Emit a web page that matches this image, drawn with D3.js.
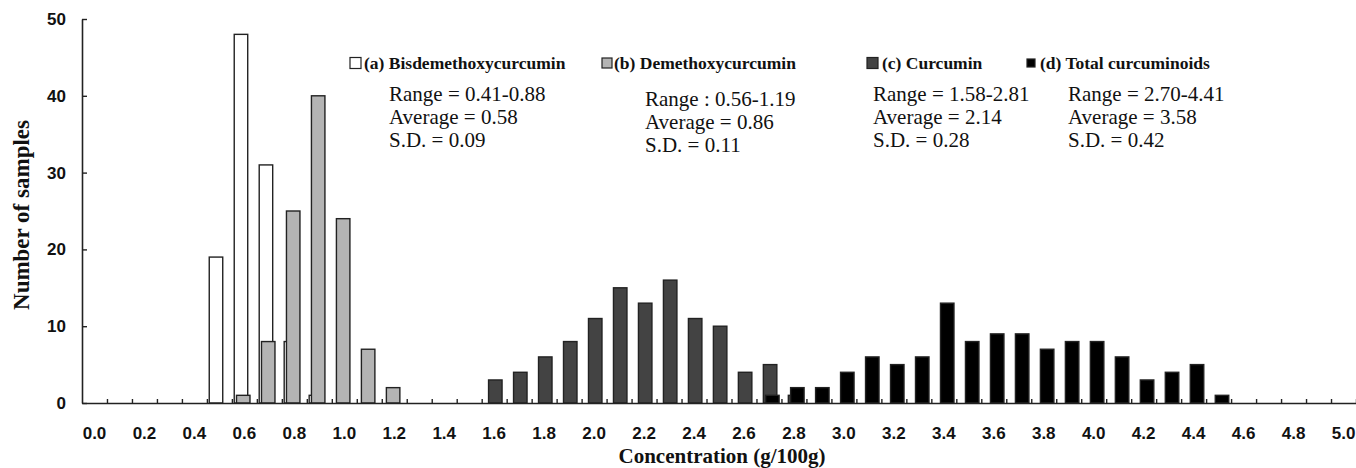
<!DOCTYPE html>
<html>
<head>
<meta charset="utf-8">
<style>
    body {
        margin: 0;
        background: #fff;
    }

    svg {
        display: block;
        font-family: 'Liberation Serif', 'Times New Roman', serif;
    }

    .axis .domain {
        stroke: #222;
        stroke-width: 1.6px;
    }

    .axis .tick line {
        stroke: #222;
        stroke-width: 1.4px;
    }

    .axis .tick text {
        font-size: 17px;
        font-weight: bold;
        fill: #111;
    }

    .axis-title {
        font-size: 21px;
        font-weight: bold;
        fill: #111;
    }

    .legend-text {
        font-size: 17.5px;
        font-weight: bold;
        fill: #111;
    }

    .stat-text {
        font-size: 21px;
        fill: #111;
    }
</style>
</head>
<body>
<svg width="1356" height="468"></svg>

<script src="https://d3js.org/d3.v7.min.js"></script>
<script>
    // categories on the x axis (bins, g/100g)
    let categories = [
        "0.0", "0.1", "0.2", "0.3", "0.4", "0.5", "0.6", "0.7", "0.8", "0.9",
        "1.0", "1.1", "1.2", "1.3", "1.4", "1.5", "1.6", "1.7", "1.8", "1.9",
        "2.0", "2.1", "2.2", "2.3", "2.4", "2.5", "2.6", "2.7", "2.8", "2.9",
        "3.0", "3.1", "3.2", "3.3", "3.4", "3.5", "3.6", "3.7", "3.8", "3.9",
        "4.0", "4.1", "4.2", "4.3", "4.4", "4.5", "4.6", "4.7", "4.8", "4.9",
        "5.0"
    ]

    let xTickLabels = [
        "0.0", "0.2", "0.4", "0.6", "0.8", "1.0", "1.2", "1.4", "1.6", "1.8",
        "2.0", "2.2", "2.4", "2.6", "2.8", "3.0", "3.2", "3.4", "3.6", "3.8",
        "4.0", "4.2", "4.4", "4.6", "4.8", "5.0"
    ]

    let yTickValues = [0, 10, 20, 30, 40, 50]

    // (a) Bisdemethoxycurcumin
    let bisBins = ["0.5", "0.6", "0.7", "0.8", "0.9"]
    let bisCounts = [19, 48, 31, 8, 1]

    // (b) Demethoxycurcumin
    let demBins = ["0.6", "0.7", "0.8", "0.9", "1.0", "1.1", "1.2"]
    let demCounts = [1, 8, 25, 40, 24, 7, 2]

    // (c) Curcumin
    let curBins = ["1.6", "1.7", "1.8", "1.9", "2.0", "2.1", "2.2", "2.3", "2.4", "2.5", "2.6", "2.7", "2.8"]
    let curCounts = [3, 4, 6, 8, 11, 15, 13, 16, 11, 10, 4, 5, 1]

    // (d) Total curcuminoids
    let totBins = ["2.7", "2.8", "2.9", "3.0", "3.1", "3.2", "3.3", "3.4", "3.5", "3.6",
        "3.7", "3.8", "3.9", "4.0", "4.1", "4.2", "4.3", "4.4", "4.5"]
    let totCounts = [1, 2, 2, 4, 6, 5, 6, 13, 8, 9, 9, 7, 8, 8, 6, 3, 4, 5, 1]

    let seriesNames = [
        "(a) Bisdemethoxycurcumin",
        "(b) Demethoxycurcumin",
        "(c) Curcumin",
        "(d) Total curcuminoids"
    ]
    let seriesColors = ["#ffffff", "#b4b4b4", "#434343", "#000000"]

    let statLines = [
        ["Range = 0.41-0.88", "Average = 0.58", "S.D. = 0.09"],
        ["Range : 0.56-1.19", "Average = 0.86", "S.D. = 0.11"],
        ["Range = 1.58-2.81", "Average = 2.14", "S.D. = 0.28"],
        ["Range = 2.70-4.41", "Average = 3.58", "S.D. = 0.42"]
    ]

    let series = [
        { bins: bisBins, counts: bisCounts },
        { bins: demBins, counts: demCounts },
        { bins: curBins, counts: curCounts },
        { bins: totBins, counts: totCounts }
    ]

    let svg = d3.select("svg")

    let margin = { top: 19, right: 0, bottom: 65, left: 82 }
    let width = 1356
    let height = 468

    let x = d3.scaleBand()
        .domain(categories)
        .range([margin.left, width - margin.right])

    // category boundaries, for the small tick marks
    let xEdge = d3.scaleLinear()
        .domain([0, categories.length])
        .range([margin.left, width - margin.right])

    let y = d3.scaleLinear()
        .domain([0, 50])
        .range([height - margin.bottom, margin.top])

    // small shift of each series inside a category (overlapping columns)
    let shift = d3.scalePoint()
        .domain(d3.range(series.length))
        .range([-3.4, 3.4])

    let barW = x.bandwidth() * 0.54

    // bars
    series.forEach(function(s, i) {
        let rows = s.bins.map((b, j) => ({ bin: b, n: s.counts[j] }))
        svg.append("g")
            .attr("class", "series-" + i)
            .selectAll("rect")
            .data(rows)
            .join("rect")
            .attr("x", d => x(d.bin) + x.bandwidth() / 2 + shift(i) - barW / 2)
            .attr("y", d => y(d.n))
            .attr("width", barW)
            .attr("height", d => y(0) - y(d.n))
            .attr("fill", seriesColors[i])
            .attr("stroke", "#222")
            .attr("stroke-width", 1.4)
    })

    // x axis: tick marks at bin edges, pointing up
    svg.append("g")
        .attr("class", "x axis")
        .attr("transform", `translate(0,${y(0)})`)
        .call(d3.axisBottom(xEdge)
            .tickValues(d3.range(1, categories.length + 1))
            .tickSize(-4)
            .tickSizeOuter(0)
            .tickFormat(""))

    // x labels, every second bin
    svg.append("g")
        .attr("class", "x axis labels")
        .attr("transform", `translate(0,${y(0)})`)
        .call(d3.axisBottom(x)
            .tickValues(xTickLabels)
            .tickSize(0)
            .tickPadding(24))
        .call(g => g.select(".domain").remove())

    // y axis
    svg.append("g")
        .attr("class", "y axis")
        .attr("transform", `translate(${margin.left},0)`)
        .call(d3.axisLeft(y)
            .tickValues(yTickValues)
            .tickSize(-5)
            .tickSizeOuter(0)
            .tickPadding(16))

    // axis titles
    svg.append("text")
        .attr("class", "axis-title")
        .attr("x", (margin.left + width) / 2 + 3)
        .attr("y", 463)
        .attr("text-anchor", "middle")
        .text("Concentration (g/100g)")

    svg.append("text")
        .attr("class", "axis-title")
        .attr("transform", `translate(29,${(y(0) + y(50)) / 2 + 4}) rotate(-90)`)
        .attr("text-anchor", "middle")
        .style("font-size", "23px")
        .text("Number of samples")

    // legend + stats
    let legX = [350, 602, 867, 1027]
    let legTextX = [364, 614, 882, 1040]
    let boxSize = [11, 10, 11, 8]
    let statX = [389, 645, 873, 1068]
    let statY = [[94, 117, 140], [99, 122, 145], [94, 117, 140], [94, 117, 140]]
    let legY = 63

    seriesNames.forEach(function(name, i) {
        svg.append("rect")
            .attr("x", legX[i])
            .attr("y", legY - boxSize[i] / 2)
            .attr("width", boxSize[i])
            .attr("height", boxSize[i])
            .attr("fill", seriesColors[i])
            .attr("stroke", "#222")
            .attr("stroke-width", 1.2)

        svg.append("text")
            .attr("class", "legend-text")
            .attr("x", legTextX[i])
            .attr("y", legY + 6)
            .text(name)

        statLines[i].forEach(function(line, k) {
            svg.append("text")
                .attr("class", "stat-text")
                .attr("x", statX[i])
                .attr("y", statY[i][k] + 7)
                .text(line)
        })
    })
</script>
</body>
</html>
